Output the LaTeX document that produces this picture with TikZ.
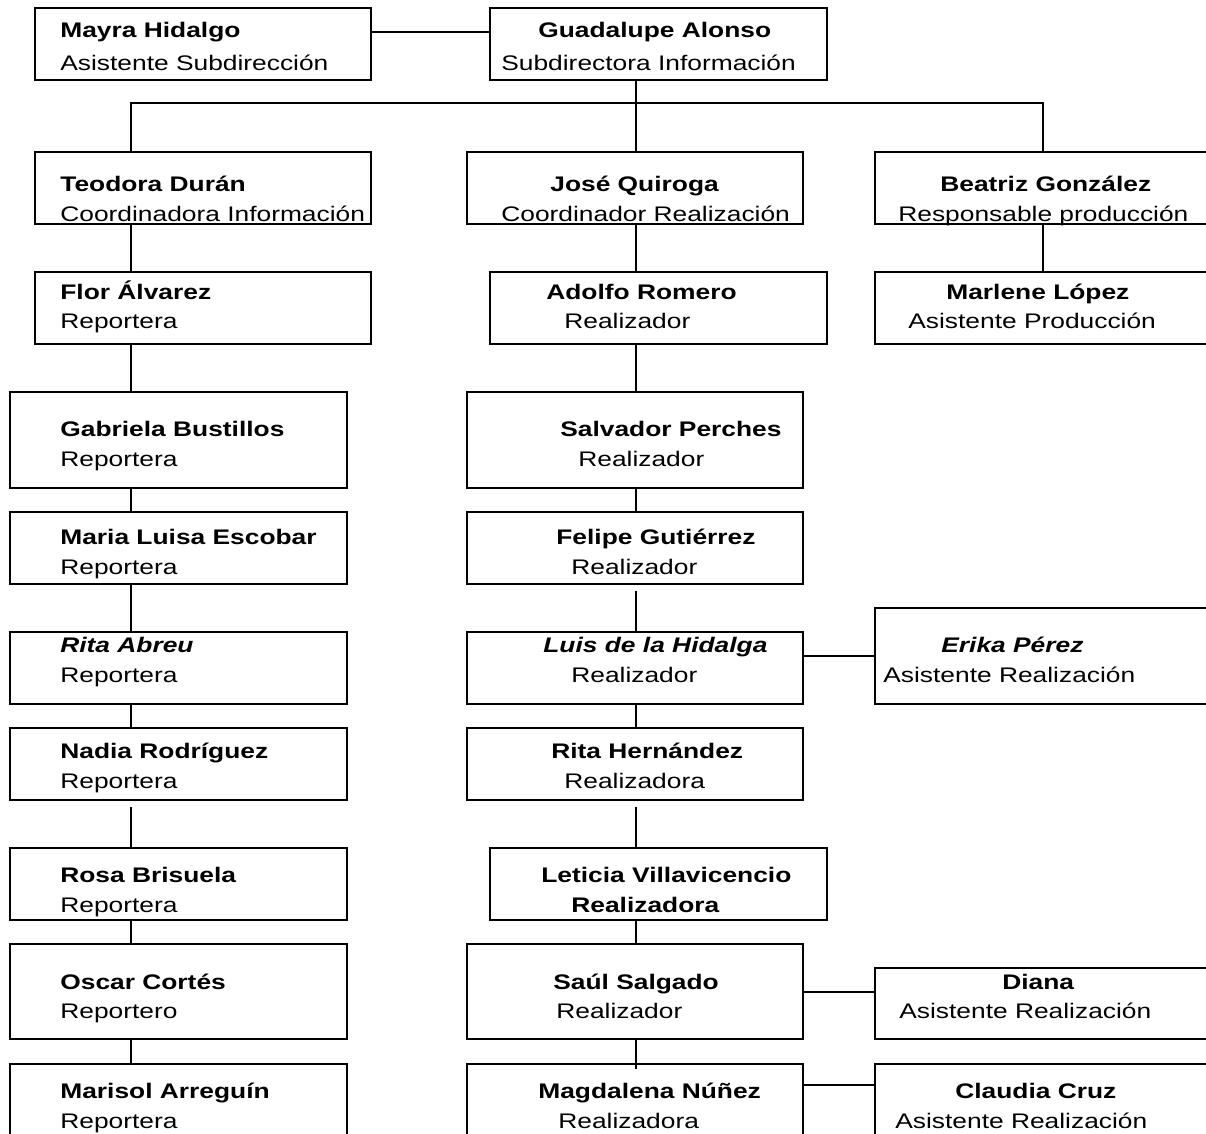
\documentclass[tikz,border=0pt]{standalone}
\usepackage{fontspec}
\setmainfont{Liberation Sans}[FakeStretch=1.25]
\usetikzlibrary{fit}
\tikzset{>=stealth}
\tikzset{caja/.style={draw, line width=1.1pt, inner sep=0pt},
    nombre/.style={font=\fontsize{12pt}{14pt}\selectfont\bfseries, anchor=base west, inner sep=0pt},
    cargo/.style={font=\fontsize{12pt}{14pt}\selectfont, anchor=base west, inner sep=0pt},
    linea/.style={line width=1pt}}

\begin{document}
\begin{tikzpicture}[x=0.02cm, y=-0.02cm]
    \useasboundingbox (0,0) rectangle (1206,1133);
    \clip (0,0) rectangle (1206,1133);
    \coordinate (ejeIzq) at (131,0);
    \coordinate (ejeCen) at (636,0);
    % cajas
    \node[caja, fit={(35,8) (371,80)}] (mayra) {};
    \node[caja, fit={(490,8) (827,80)}] (guadalupe) {};
    \node[caja, fit={(35,152) (371,224)}] (teodora) {};
    \node[caja, fit={(467,152) (803,224)}] (jose) {};
    \node[caja, fit={(875,152) (1211,224)}] (beatriz) {};
    \node[caja, fit={(35,272) (371,344)}] (flor) {};
    \node[caja, fit={(490,272) (827,344)}] (adolfo) {};
    \node[caja, fit={(875,272) (1211,344)}] (marlene) {};
    \node[caja, fit={(10,392) (347,488)}] (gabriela) {};
    \node[caja, fit={(467,392) (803,488)}] (salvador) {};
    \node[caja, fit={(10,512) (347,584)}] (mariaLuisa) {};
    \node[caja, fit={(467,512) (803,584)}] (felipe) {};
    \node[caja, fit={(10,632) (347,704)}] (ritaA) {};
    \node[caja, fit={(467,632) (803,704)}] (luis) {};
    \node[caja, fit={(875,608) (1211,704)}] (erika) {};
    \node[caja, fit={(10,728) (347,800)}] (nadia) {};
    \node[caja, fit={(467,728) (803,800)}] (ritaH) {};
    \node[caja, fit={(10,848) (347,920)}] (rosa) {};
    \node[caja, fit={(490,848) (827,920)}] (leticia) {};
    \node[caja, fit={(10,944) (347,1039)}] (oscar) {};
    \node[caja, fit={(467,944) (803,1039)}] (saul) {};
    \node[caja, fit={(875,968) (1211,1039)}] (diana) {};
    \node[caja, fit={(10,1064) (347,1160)}] (marisol) {};
    \node[caja, fit={(467,1064) (803,1160)}] (magdalena) {};
    \node[caja, fit={(875,1064) (1211,1160)}] (claudia) {};
    % textos
    \node[nombre] (mayraN) at (60,37) {Mayra Hidalgo};
    \node[cargo] (mayraC) at (60,70) {Asistente Subdirección};
    \node[nombre] (guadalupeN) at (538,37) {Guadalupe Alonso};
    \node[cargo] (guadalupeC) at (501,70) {Subdirectora Información};
    \node[nombre] (teodoraN) at (60,191) {Teodora Durán};
    \node[cargo] (teodoraC) at (60,221) {Coordinadora Información};
    \node[nombre] (joseN) at (550,191) {José Quiroga};
    \node[cargo] (joseC) at (501,221) {Coordinador Realización};
    \node[nombre] (beatrizN) at (940,191) {Beatriz González};
    \node[cargo] (beatrizC) at (898,221) {Responsable producción};
    \node[nombre] (florN) at (60,299) {Flor Álvarez};
    \node[cargo] (florC) at (60,328) {Reportera};
    \node[nombre] (adolfoN) at (546,299) {Adolfo Romero};
    \node[cargo] (adolfoC) at (564,328) {Realizador};
    \node[nombre] (marleneN) at (946,299) {Marlene López};
    \node[cargo] (marleneC) at (908,328) {Asistente Producción};
    \node[nombre] (gabrielaN) at (60,436) {Gabriela Bustillos};
    \node[cargo] (gabrielaC) at (60,466) {Reportera};
    \node[nombre] (salvadorN) at (560,436) {Salvador Perches};
    \node[cargo] (salvadorC) at (578,466) {Realizador};
    \node[nombre] (mariaLuisaN) at (60,544) {Maria Luisa Escobar};
    \node[cargo] (mariaLuisaC) at (60,574) {Reportera};
    \node[nombre] (felipeN) at (556,544) {Felipe Gutiérrez};
    \node[cargo] (felipeC) at (571,574) {Realizador};
    \node[nombre, font=\fontsize{12pt}{14pt}\selectfont\bfseries\itshape] (ritaAN) at (60,652) {Rita Abreu};
    \node[cargo] (ritaAC) at (60,682) {Reportera};
    \node[nombre, font=\fontsize{12pt}{14pt}\selectfont\bfseries\itshape] (luisN) at (543,652) {Luis de la Hidalga};
    \node[cargo] (luisC) at (571,682) {Realizador};
    \node[nombre, font=\fontsize{12pt}{14pt}\selectfont\bfseries\itshape] (erikaN) at (941,652) {Erika Pérez};
    \node[cargo] (erikaC) at (883,682) {Asistente Realización};
    \node[nombre] (nadiaN) at (60,758) {Nadia Rodríguez};
    \node[cargo] (nadiaC) at (60,788) {Reportera};
    \node[nombre] (ritaHN) at (551,758) {Rita Hernández};
    \node[cargo] (ritaHC) at (564,788) {Realizadora};
    \node[nombre] (rosaN) at (60,882) {Rosa Brisuela};
    \node[cargo] (rosaC) at (60,912) {Reportera};
    \node[nombre] (leticiaN) at (541,882) {Leticia Villavicencio};
    \node[nombre] (leticiaC) at (571,912) {Realizadora};
    \node[nombre] (oscarN) at (60,989) {Oscar Cortés};
    \node[cargo] (oscarC) at (60,1018) {Reportero};
    \node[nombre] (saulN) at (553,989) {Saúl Salgado};
    \node[cargo] (saulC) at (556,1018) {Realizador};
    \node[nombre] (dianaN) at (1002,989) {Diana};
    \node[cargo] (dianaC) at (899,1018) {Asistente Realización};
    \node[nombre] (marisolN) at (60,1098) {Marisol Arreguín};
    \node[cargo] (marisolC) at (60,1128) {Reportera};
    \node[nombre] (magdalenaN) at (538,1098) {Magdalena Núñez};
    \node[cargo] (magdalenaC) at (558,1128) {Realizadora};
    \node[nombre] (claudiaN) at (955,1098) {Claudia Cruz};
    \node[cargo] (claudiaC) at (895,1128) {Asistente Realización};
    % lineas
    \draw[linea] (mayra.east |- 0,32) -- (guadalupe.west |- 0,32);
    \draw[linea] (guadalupe.south -| ejeCen) -- (jose.north -| ejeCen);
    \draw[linea] (teodora.north -| ejeIzq) -- ++(0,-48) -| (beatriz.north);
    \draw[linea] (beatriz.south) -- (marlene.north);
    \draw[linea] (teodora.south -| ejeIzq) -- (flor.north -| ejeIzq);
    \draw[linea] (flor.south -| ejeIzq) -- (gabriela.north -| ejeIzq);
    \draw[linea] (gabriela.south -| ejeIzq) -- (mariaLuisa.north -| ejeIzq);
    \draw[linea] (mariaLuisa.south -| ejeIzq) -- (ritaA.north -| ejeIzq);
    \draw[linea] (ritaA.south -| ejeIzq) -- (nadia.north -| ejeIzq);
    \draw[linea] (nadia.south -| ejeIzq) ++(0,6) -- (rosa.north -| ejeIzq);
    \draw[linea] (rosa.south -| ejeIzq) -- (oscar.north -| ejeIzq);
    \draw[linea] (oscar.south -| ejeIzq) -- (marisol.north -| ejeIzq);
    \draw[linea] (jose.south -| ejeCen) -- (adolfo.north -| ejeCen);
    \draw[linea] (adolfo.south -| ejeCen) -- (salvador.north -| ejeCen);
    \draw[linea] (salvador.south -| ejeCen) -- (felipe.north -| ejeCen);
    \draw[linea] (felipe.south -| ejeCen) ++(0,6) -- (luis.north -| ejeCen);
    \draw[linea] (luis.south -| ejeCen) -- (ritaH.north -| ejeCen);
    \draw[linea] (ritaH.south -| ejeCen) ++(0,6) -- (leticia.north -| ejeCen);
    \draw[linea] (leticia.south -| ejeCen) -- (saul.north -| ejeCen);
    \draw[linea] (saul.south -| ejeCen) -- ([yshift=-3.4pt]magdalena.north -| ejeCen);
    \draw[linea] (luis.east |- erika.west) -- (erika.west);
    \draw[linea] (saul.east |- 0,992) -- (diana.west |- 0,992);
    \draw[linea] (magdalena.east |- 0,1085) -- (claudia.west |- 0,1085);
\end{tikzpicture}
\end{document}
